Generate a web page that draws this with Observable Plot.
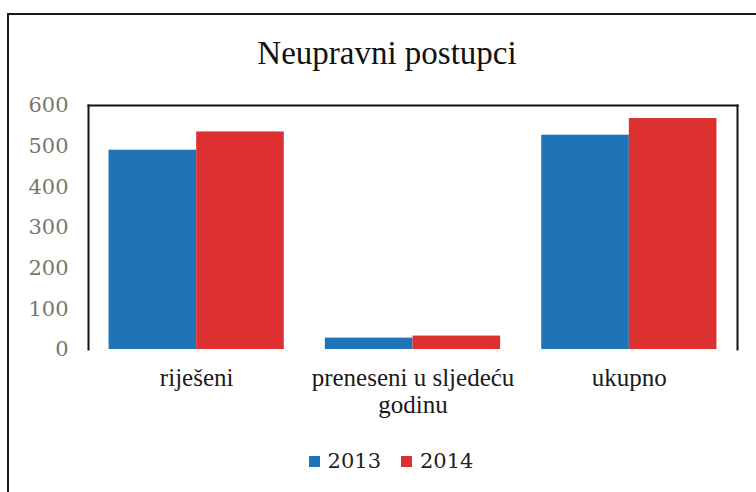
<!DOCTYPE html>
<html>
<head>
<meta charset="utf-8">
<script src="https://cdn.jsdelivr.net/npm/d3@7"></script>
<script src="https://cdn.jsdelivr.net/npm/@observablehq/plot@0.6"></script>
<style>
  html, body { margin: 0; padding: 0; background: #fff; width: 756px; height: 492px; overflow: hidden; }
  #outer { position: absolute; left: 7px; top: 13px; width: 800px; height: 520px;
           border-left: 2px solid #1a1a1a; border-top: 2px solid #1a1a1a; }
  #title { position: absolute; left: 0; width: 774px; top: 37px; text-align: center; line-height: 1;
           font-family: "Liberation Serif", serif; font-size: 33px; color: #111; white-space: nowrap; }
  #chart { position: absolute; left: 0; top: 0; }
  #legend { position: absolute; top: 451px; left: 0; width: 782px; text-align: center; line-height: 1;
            font-family: "DejaVu Serif", serif; font-size: 21px; color: #222; white-space: nowrap; }
  #legend span.item { margin: 0 10px; }
  #legend span.sw { display: inline-block; width: 11px; height: 11px; margin-right: 8px; vertical-align: 1px; }
</style>
</head>
<body>
<div id="outer"></div>
<div id="title">Neupravni postupci</div>
<div id="chart"></div>
<div id="legend"></div>
<script>
const categories = ["riješeni", "preneseni u sljedeću godinu", "ukupno"];
const categoryLabels = ["riješeni", "preneseni u sljedeću\ngodinu", "ukupno"];
const years = ["2013", "2014"];
const values2013 = [490, 28, 527];
const values2014 = [535, 33, 568];
const yTicks = [0, 100, 200, 300, 400, 500, 600];
const colors = ["#1f74b7", "#dc3130"];

const rows2013 = categories.map((c, i) => ({category: c, year: years[0], value: values2013[i]}));
const rows2014 = categories.map((c, i) => ({category: c, year: years[1], value: values2014[i]}));

const xScale = {domain: categories, paddingInner: 0.19, paddingOuter: 0.095, round: false, axis: null, label: null};
const base = {width: 756, height: 440, marginLeft: 88, marginRight: 19, marginTop: 105, marginBottom: 91};

// measure the band width through Plot's own scale
const probe = Plot.plot({...base, x: xScale, y: {domain: [0, 600]}, marks: [Plot.barY(rows2013, {x: "category", y: "value"})]});
const half = probe.scale("x").bandwidth / 2;

const plot = Plot.plot({
  ...base,
  style: {background: "transparent", overflow: "visible"},
  x: xScale,
  y: {domain: [0, 600], axis: null, label: null},
  color: {domain: years, range: colors},
  marks: [
    Plot.barY(rows2013, {x: "category", y: "value", fill: "year", insetRight: half, insetLeft: 0}),
    Plot.barY(rows2014, {x: "category", y: "value", fill: "year", insetLeft: half, insetRight: 0}),
    Plot.frame({anchor: "top", stroke: "#111", strokeWidth: 2}),
    Plot.frame({anchor: "left", stroke: "#111", strokeWidth: 2}),
    Plot.frame({anchor: "right", stroke: "#111", strokeWidth: 2}),
    Plot.axisY({ticks: yTicks, tickSize: 0, tickPadding: 20, fontSize: 21, fill: "#77776a", label: null,
                fontFamily: "DejaVu Serif", tickFormat: d => String(d)}),
    Plot.axisX({tickSize: 0, tickPadding: 17, fontSize: 25, fill: "#1a1a1a", lineHeight: 1.08, label: null,
                fontFamily: "Liberation Serif",
                tickFormat: d => categoryLabels[categories.indexOf(d)]})
  ]
});
document.getElementById("chart").appendChild(plot);

const legend = document.getElementById("legend");
years.forEach((y, i) => {
  const item = document.createElement("span");
  item.className = "item";
  const sw = document.createElement("span");
  sw.className = "sw";
  sw.style.background = colors[i];
  item.appendChild(sw);
  item.appendChild(document.createTextNode(y));
  legend.appendChild(item);
});
</script>
</body>
</html>
